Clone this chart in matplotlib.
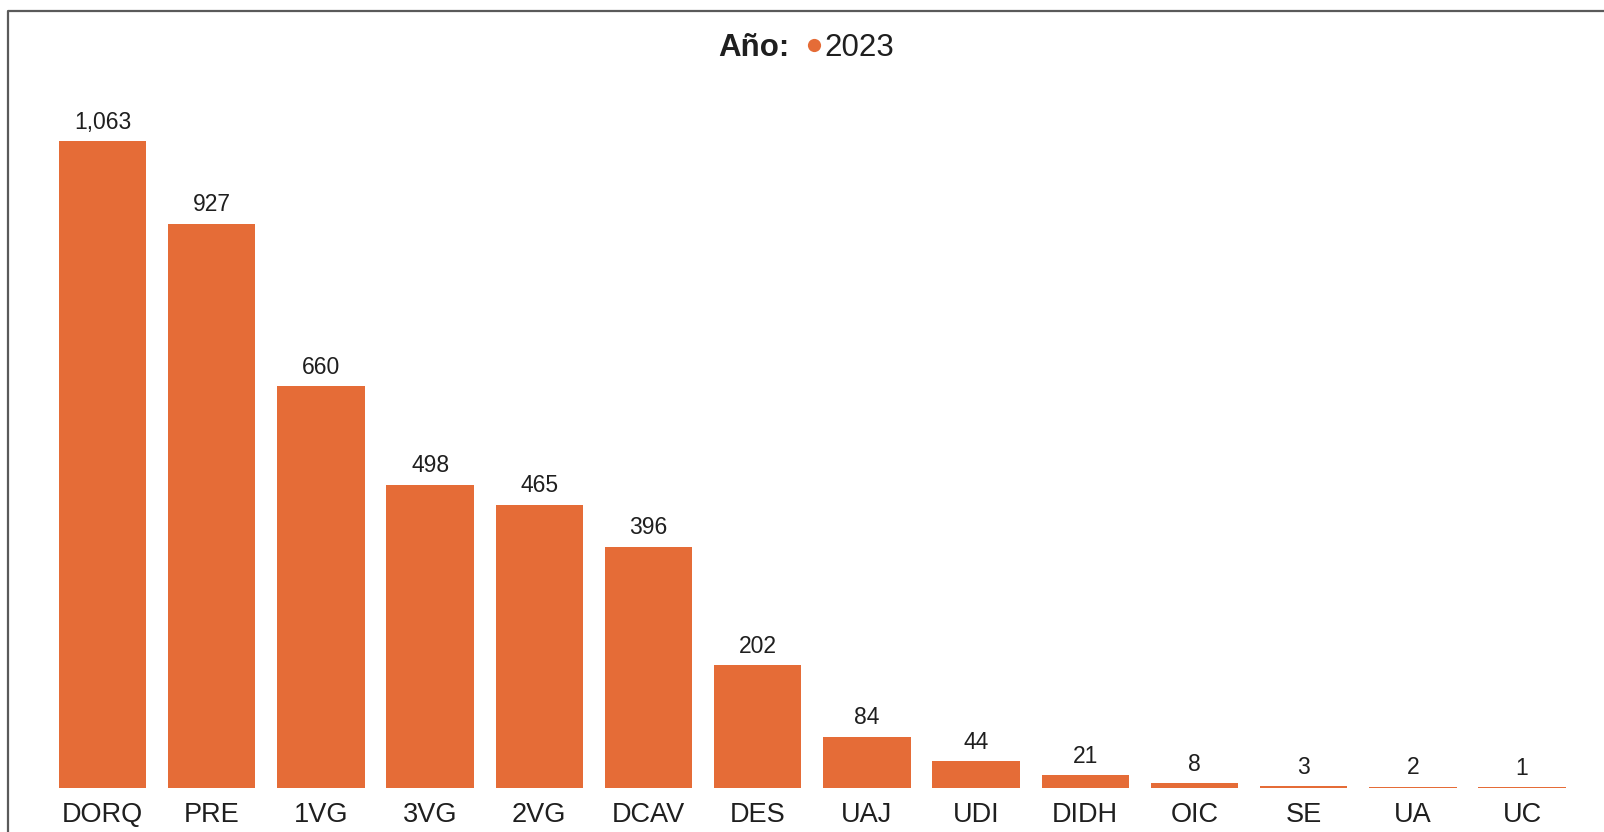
import matplotlib.pyplot as plt
from matplotlib.lines import Line2D

plt.rcParams['font.family'] = ['Liberation Sans', 'DejaVu Sans']

# ----------------------------------------------------------------------------------
# DATA
# ----------------------------------------------------------------------------------
areas = ['DORQ', 'PRE', '1VG', '3VG', '2VG', 'DCAV', 'DES',
         'UAJ', 'UDI', 'DIDH', 'OIC', 'SE', 'UA', 'UC']
values_2023 = [1063, 927, 660, 498, 465, 396, 202, 84, 44, 21, 8, 3, 2, 1]
year_label = '2023'

BAR_COLOR = '#E56C37'
TEXT_COLOR = '#1f1f1f'

W, H = 1604, 832
fig = plt.figure(figsize=(W / 100, H / 100), dpi=100)

# axes fills the width; bar baseline sits at y=788 px
ax = fig.add_axes([0, (H - 788) / H, 1, 788 / H])
x = list(range(len(areas)))
bars = ax.bar(x, values_2023, width=0.8, color=BAR_COLOR)

# pixel mapping: first bar centre at 102.5 px, pitch 109.2 px
pitch = 109.2
ax.set_xlim(-102.5 / pitch, (W - 102.5) / pitch)
ax.set_ylim(0, 788 * 1063 / 647)

for xi, v in zip(x, values_2023):
    ax.annotate(f'{v:,}', xy=(xi, v), xytext=(0, 9), textcoords='offset points',
                ha='center', va='baseline', fontsize=16.5, color=TEXT_COLOR)

ax.set_xticks(x)
ax.set_xticklabels(areas, fontsize=19.5, color=TEXT_COLOR)
ax.tick_params(axis='x', length=0, pad=10)
ax.set_yticks([])
for s in ax.spines.values():
    s.set_visible(False)
ax.patch.set_alpha(0)

# Legend: "Año:" + dot 2023
fig.text(718 / W, 1 - 48 / H, 'Año:', fontsize=22.5, fontweight='bold',
         color=TEXT_COLOR, ha='left', va='center')
handle = Line2D([0], [0], marker='o', color='none', markerfacecolor=BAR_COLOR,
                markeredgecolor='none', markersize=9.5)
fig.legend(handles=[handle], labels=[year_label], loc='center left',
           bbox_to_anchor=(807 / W, 1 - 48 / H), frameon=False, fontsize=22.5,
           handlelength=0.45, handletextpad=0.12, borderpad=0, borderaxespad=0,
           labelcolor=TEXT_COLOR)

# outer frame (top and left edges visible)
fig.add_artist(Line2D([7.5 / W, 7.5 / W, 1], [0, 1 - 11 / H, 1 - 11 / H],
                      transform=fig.transFigure, color='#5a5a5a', lw=1.6))

fig.savefig('out.png', dpi=100)
